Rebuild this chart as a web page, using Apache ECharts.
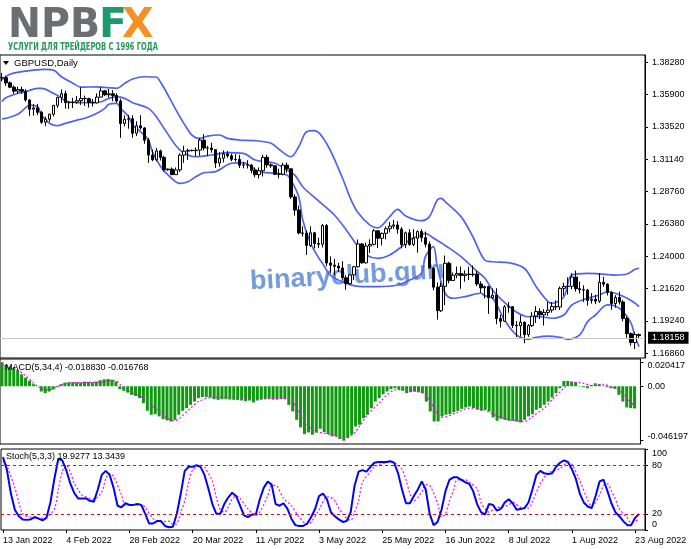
<!DOCTYPE html>
<html><head><meta charset="utf-8">
<script src="https://cdn.jsdelivr.net/npm/echarts@6/dist/echarts.min.js"></script>
<style>html,body{margin:0;padding:0;background:#fff}#c{width:691px;height:549px}</style>
</head><body><div id="c"></div>
<script>
const dates = ['13 Jan 2022','14 Jan 2022','17 Jan 2022','18 Jan 2022','19 Jan 2022','20 Jan 2022','21 Jan 2022','24 Jan 2022','25 Jan 2022','26 Jan 2022','27 Jan 2022','28 Jan 2022','31 Jan 2022',
'1 Feb 2022','2 Feb 2022','3 Feb 2022','4 Feb 2022','7 Feb 2022','8 Feb 2022','9 Feb 2022','10 Feb 2022','11 Feb 2022','14 Feb 2022','15 Feb 2022','16 Feb 2022','17 Feb 2022','18 Feb 2022','21 Feb 2022','22 Feb 2022','23 Feb 2022','24 Feb 2022','25 Feb 2022','28 Feb 2022',
'1 Mar 2022','2 Mar 2022','3 Mar 2022','4 Mar 2022','7 Mar 2022','8 Mar 2022','9 Mar 2022','10 Mar 2022','11 Mar 2022','13 Mar 2022','14 Mar 2022','15 Mar 2022','16 Mar 2022','17 Mar 2022','18 Mar 2022','20 Mar 2022','21 Mar 2022','22 Mar 2022','23 Mar 2022','24 Mar 2022','25 Mar 2022','28 Mar 2022','29 Mar 2022','30 Mar 2022','31 Mar 2022',
'1 Apr 2022','4 Apr 2022','5 Apr 2022','6 Apr 2022','7 Apr 2022','8 Apr 2022','11 Apr 2022','12 Apr 2022','13 Apr 2022','14 Apr 2022','15 Apr 2022','18 Apr 2022','19 Apr 2022','20 Apr 2022','21 Apr 2022','22 Apr 2022','25 Apr 2022','26 Apr 2022','27 Apr 2022','28 Apr 2022','29 Apr 2022',
'2 May 2022','3 May 2022','4 May 2022','5 May 2022','6 May 2022','9 May 2022','10 May 2022','11 May 2022','12 May 2022','13 May 2022','16 May 2022','17 May 2022','18 May 2022','19 May 2022','20 May 2022','23 May 2022','24 May 2022','25 May 2022','26 May 2022','27 May 2022','30 May 2022','31 May 2022',
'1 Jun 2022','2 Jun 2022','3 Jun 2022','6 Jun 2022','7 Jun 2022','8 Jun 2022','9 Jun 2022','10 Jun 2022','13 Jun 2022','14 Jun 2022','15 Jun 2022','16 Jun 2022','17 Jun 2022','20 Jun 2022','21 Jun 2022','22 Jun 2022','23 Jun 2022','24 Jun 2022','27 Jun 2022','28 Jun 2022','29 Jun 2022','30 Jun 2022',
'1 Jul 2022','4 Jul 2022','5 Jul 2022','6 Jul 2022','7 Jul 2022','8 Jul 2022','11 Jul 2022','12 Jul 2022','13 Jul 2022','14 Jul 2022','15 Jul 2022','18 Jul 2022','19 Jul 2022','20 Jul 2022','21 Jul 2022','22 Jul 2022','25 Jul 2022','26 Jul 2022','27 Jul 2022','28 Jul 2022','29 Jul 2022',
'1 Aug 2022','2 Aug 2022','3 Aug 2022','4 Aug 2022','5 Aug 2022','8 Aug 2022','9 Aug 2022','10 Aug 2022','11 Aug 2022','12 Aug 2022','15 Aug 2022','16 Aug 2022','17 Aug 2022','18 Aug 2022','19 Aug 2022','22 Aug 2022','23 Aug 2022','24 Aug 2022'];
// MT4 leaves one empty slot at the right edge of the chart
const rightGapSlots = [''];

// [open, close, low, high]
const candles = [
[1.3714,1.3715,1.3688,1.3749],[1.3715,1.3677,1.3655,1.3730],[1.3677,1.3645,1.3638,1.3686],[1.3645,1.3616,1.3597,1.3658],[1.3616,1.3628,1.3597,1.3648],
[1.3628,1.3615,1.3597,1.3650],[1.3615,1.3551,1.3538,1.3631],[1.3551,1.3483,1.3434,1.3554],[1.3483,1.3493,1.3436,1.3520],[1.3493,1.3460,1.3440,1.3522],
[1.3460,1.3387,1.3375,1.3470],[1.3387,1.3409,1.3358,1.3428],[1.3409,1.3446,1.3392,1.3450],[1.3446,1.3511,1.3429,1.3515],[1.3511,1.3570,1.3493,1.3574],
[1.3570,1.3598,1.3528,1.3629],[1.3598,1.3531,1.3488,1.3620],[1.3531,1.3532,1.3485,1.3544],[1.3532,1.3534,1.3492,1.3567],[1.3534,1.3546,1.3523,1.3581],
[1.3546,1.3562,1.3515,1.3644],[1.3562,1.3560,1.3508,1.3583],[1.3560,1.3533,1.3495,1.3568],[1.3533,1.3529,1.3502,1.3558],[1.3529,1.3572,1.3526,1.3599],
[1.3572,1.3618,1.3570,1.3644],[1.3618,1.3589,1.3581,1.3623],[1.3589,1.3596,1.3570,1.3633],[1.3596,1.3584,1.3541,1.3624],[1.3584,1.3543,1.3530,1.3600],
[1.3543,1.3378,1.3272,1.3560],[1.3378,1.3409,1.3357,1.3437],[1.3409,1.3413,1.3339,1.3441],[1.3413,1.3306,1.3273,1.3438],[1.3306,1.3361,1.3285,1.3394],
[1.3361,1.3345,1.3333,1.3439],[1.3345,1.3255,1.3229,1.3351],[1.3255,1.3145,1.3088,1.3271],[1.3145,1.3111,1.3100,1.3186],[1.3111,1.3176,1.3099,1.3198],
[1.3176,1.3128,1.3105,1.3185],[1.3128,1.3037,1.3024,1.3140],[1.3037,1.3042,1.3030,1.3047],[1.3042,1.3001,1.3000,1.3054],[1.3001,1.3036,1.2999,1.3054],
[1.3036,1.3145,1.3021,1.3158],[1.3145,1.3174,1.3088,1.3214],[1.3174,1.3180,1.3110,1.3193],[1.3180,1.3178,1.3172,1.3186],[1.3178,1.3182,1.3136,1.3201],
[1.3182,1.3255,1.3140,1.3271],[1.3255,1.3197,1.3180,1.3299],[1.3197,1.3197,1.3138,1.3213],[1.3197,1.3185,1.3163,1.3235],[1.3185,1.3087,1.3051,1.3186],
[1.3087,1.3122,1.3060,1.3166],[1.3122,1.3154,1.3091,1.3180],[1.3154,1.3140,1.3125,1.3175],[1.3140,1.3114,1.3099,1.3155],[1.3114,1.3113,1.3097,1.3153],
[1.3113,1.3071,1.3050,1.3147],[1.3071,1.3074,1.3048,1.3095],[1.3074,1.3072,1.3046,1.3107],[1.3072,1.3033,1.3011,1.3081],[1.3033,1.3001,1.2982,1.3055],
[1.3001,1.3030,1.2973,1.3054],[1.3030,1.3129,1.2988,1.3147],[1.3129,1.3073,1.3052,1.3148],[1.3073,1.3066,1.3051,1.3085],[1.3066,1.3004,1.2999,1.3071],
[1.3004,1.3004,1.2974,1.3045],[1.3004,1.3071,1.2996,1.3089],[1.3071,1.3044,1.3015,1.3090],[1.3044,1.2837,1.2823,1.3045],[1.2837,1.2740,1.2700,1.2857],
[1.2740,1.2572,1.2561,1.2773],[1.2572,1.2569,1.2546,1.2621],[1.2569,1.2480,1.2410,1.2589],[1.2480,1.2573,1.2469,1.2620],[1.2573,1.2494,1.2458,1.2580],
[1.2494,1.2489,1.2462,1.2537],[1.2489,1.2627,1.2465,1.2638],[1.2627,1.2351,1.2326,1.2638],[1.2351,1.2335,1.2275,1.2400],[1.2335,1.2327,1.2260,1.2381],
[1.2327,1.2314,1.2285,1.2352],[1.2314,1.2242,1.2228,1.2364],[1.2242,1.2200,1.2155,1.2261],[1.2200,1.2263,1.2192,1.2270],[1.2263,1.2323,1.2224,1.2330],
[1.2323,1.2491,1.2316,1.2524],[1.2491,1.2352,1.2345,1.2498],[1.2352,1.2476,1.2347,1.2500],[1.2476,1.2488,1.2425,1.2525],[1.2488,1.2588,1.2480,1.2600],
[1.2588,1.2533,1.2460,1.2590],[1.2533,1.2569,1.2480,1.2575],[1.2569,1.2603,1.2525,1.2620],[1.2603,1.2622,1.2576,1.2652],[1.2622,1.2631,1.2603,1.2668],
[1.2631,1.2600,1.2567,1.2659],[1.2600,1.2487,1.2459,1.2615],[1.2487,1.2573,1.2460,1.2582],[1.2573,1.2487,1.2478,1.2600],[1.2487,1.2533,1.2475,1.2599],
[1.2533,1.2582,1.2427,1.2590],[1.2582,1.2537,1.2506,1.2599],[1.2537,1.2489,1.2465,1.2583],[1.2489,1.2313,1.2313,1.2509],[1.2313,1.2173,1.2150,1.2318],
[1.2173,1.1999,1.1934,1.2207],[1.1999,1.2179,1.1990,1.2207],[1.2179,1.2349,1.2041,1.2406],[1.2349,1.2222,1.2201,1.2360],[1.2222,1.2261,1.2220,1.2280],
[1.2261,1.2273,1.2238,1.2324],[1.2273,1.2258,1.2161,1.2324],[1.2258,1.2269,1.2213,1.2297],[1.2269,1.2265,1.2225,1.2323],[1.2265,1.2269,1.2250,1.2332],
[1.2269,1.2196,1.2180,1.2293],[1.2196,1.2168,1.2131,1.2216],[1.2168,1.2177,1.2090,1.2183],[1.2177,1.2095,1.1976,1.2181],[1.2095,1.2114,1.2085,1.2163],
[1.2114,1.1942,1.1900,1.2165],[1.1942,1.1922,1.1876,1.1969],[1.1922,1.2028,1.1917,1.2041],[1.2028,1.2029,1.1985,1.2063],[1.2029,1.1892,1.1872,1.2034],
[1.1892,1.1888,1.1806,1.1923],[1.1888,1.1915,1.1808,1.1966],[1.1915,1.1823,1.1760,1.1920],[1.1823,1.1890,1.1807,1.1900],[1.1890,1.1960,1.1880,1.1988],
[1.1960,1.1994,1.1910,1.2033],[1.1994,1.1969,1.1938,1.2018],[1.1969,1.1987,1.1890,1.2011],[1.1987,1.2004,1.1962,1.2064],[1.2004,1.2031,1.1985,1.2063],
[1.2031,1.2027,1.2005,1.2075],[1.2027,1.2164,1.2005,1.2178],[1.2164,1.2178,1.2110,1.2205],[1.2178,1.2179,1.2118,1.2245],[1.2179,1.2247,1.2158,1.2276],
[1.2247,1.2162,1.2140,1.2294],[1.2162,1.2154,1.2126,1.2214],[1.2154,1.2151,1.2064,1.2187],[1.2151,1.2075,1.2037,1.2160],[1.2075,1.2084,1.2052,1.2129],
[1.2084,1.2070,1.2048,1.2117],[1.2070,1.2209,1.2057,1.2276],[1.2209,1.2195,1.2176,1.2249],[1.2195,1.2133,1.2112,1.2201],[1.2133,1.2052,1.2006,1.2143],
[1.2052,1.2097,1.2022,1.2114],[1.2097,1.2064,1.2045,1.2140],[1.2064,1.1942,1.1922,1.2079],[1.1942,1.1831,1.1800,1.1958],[1.1831,1.1765,1.1742,1.1840],
[1.1765,1.1824,1.1717,1.1841],[1.1824,1.18158,1.1800,1.1832]];

// Bollinger bands: [bar index, price]
const bandUpper = [[0,1.3698],[2,1.3740],[5,1.3759],[8,1.3771],[11,1.3776],[13,1.3771],[15,1.3722],[18,1.3673],[20,1.3645],[24,1.3648],[27,1.3641],[29,1.3637],[31,1.3673],[33,1.3705],[36,1.3722],[39,1.3720],[40,1.3685],[41,1.3637],[44,1.3476],[46,1.3377],[48,1.3293],[50,1.3268],[52,1.3285],[55,1.3293],[57,1.3268],[60,1.3256],[64,1.3251],[68,1.3232],[70,1.3188],[73,1.3133],[75,1.3207],[77,1.3317],[79,1.3325],[82,1.3232],[86,1.2980],[88,1.2830],[90,1.2720],[93,1.2630],[95,1.2610],[98,1.2692],[100,1.2746],[102,1.2697],[106,1.2662],[108,1.2692],[110,1.2815],[111,1.2827],[112,1.2802],[116,1.2692],[119,1.2544],[122,1.2373],[124,1.2360],[128,1.2353],[132,1.2312],[135,1.2176],[138,1.2066],[139,1.2054],[142,1.2103],[144,1.2262],[148,1.2275],[151,1.2270],[155,1.2262],[158,1.2270],[160,1.2304],[161,1.2312]];
const bandMiddle = [[0,1.3538],[1,1.3567],[4,1.3600],[6,1.3612],[9,1.3637],[10,1.3637],[13,1.3600],[15,1.3567],[16,1.3543],[19,1.3531],[22,1.3531],[25,1.3538],[27,1.3563],[29,1.3575],[31,1.3563],[33,1.3531],[37,1.3489],[39,1.3428],[41,1.3340],[45,1.3182],[49,1.3133],[53,1.3146],[57,1.3163],[61,1.3158],[64,1.3109],[69,1.3085],[72,1.3035],[74,1.2998],[76,1.2912],[80,1.2808],[84,1.2704],[87,1.2594],[90,1.2471],[92,1.2410],[95,1.2385],[98,1.2410],[101,1.2471],[103,1.2520],[106,1.2557],[107,1.2569],[109,1.2535],[112,1.2480],[116,1.2398],[120,1.2290],[122,1.2240],[124,1.2150],[127,1.2060],[130,1.1990],[133,1.1955],[136,1.1955],[139,1.1944],[142,1.1968],[144,1.2042],[148,1.2091],[151,1.2115],[153,1.2139],[155,1.2128],[158,1.2091],[160,1.2054],[161,1.2029]];
const bandLower = [[0,1.3411],[1,1.3416],[4,1.3445],[6,1.3494],[7,1.3514],[9,1.3501],[10,1.3440],[12,1.3379],[14,1.3361],[16,1.3379],[19,1.3403],[21,1.3416],[24,1.3453],[26,1.3489],[27,1.3519],[29,1.3526],[30,1.3489],[32,1.3428],[33,1.3366],[35,1.3317],[37,1.3256],[38,1.3170],[40,1.3065],[42,1.2998],[45,1.2937],[47,1.2949],[49,1.2986],[51,1.3015],[54,1.3023],[58,1.3085],[61,1.3089],[63,1.3060],[65,1.3023],[69,1.3011],[72,1.2998],[73,1.2962],[75,1.2839],[76,1.2667],[78,1.2496],[80,1.2390],[81,1.2348],[83,1.2262],[87,1.2201],[91,1.2177],[95,1.2177],[100,1.2189],[103,1.2225],[106,1.2275],[107,1.2397],[109,1.2471],[110,1.2324],[112,1.2128],[114,1.2091],[117,1.2103],[121,1.2128],[122,1.2110],[124,1.2091],[127,1.1931],[130,1.1821],[133,1.1789],[135,1.1804],[138,1.1813],[141,1.1804],[143,1.1789],[146,1.1821],[148,1.1919],[150,1.1968],[153,1.2042],[155,1.2034],[157,1.1992],[159,1.1907],[160,1.1808],[161,1.1735]];

const macdHist = [0.0204,0.0180,0.0166,0.0158,0.0138,0.0101,0.0073,0.0045,0.0017,0.0003,
-0.0045,-0.0059,-0.0045,-0.0028,-0.0008,0.0017,0.0031,0.0034,0.0034,0.0034,
0.0031,0.0039,0.0037,0.0034,0.0039,0.0051,0.0059,0.0062,0.0056,0.0039,
-0.0025,-0.0039,-0.0054,-0.0073,-0.0082,-0.0101,-0.0144,-0.0208,-0.0242,-0.0237,
-0.0256,-0.0279,-0.0290,-0.0299,-0.0285,-0.0242,-0.0208,-0.0186,-0.0158,-0.0130,
-0.0101,-0.0093,-0.0093,-0.0096,-0.0110,-0.0115,-0.0110,-0.0110,-0.0113,-0.0115,
-0.0118,-0.0121,-0.0127,-0.0121,-0.0138,-0.0121,-0.0110,-0.0107,-0.0107,-0.0113,
-0.0113,-0.0107,-0.0110,-0.0158,-0.0214,-0.0285,-0.0349,-0.0406,-0.0392,-0.0411,
-0.0394,-0.0361,-0.0389,-0.0406,-0.0425,-0.0425,-0.0448,-0.0462,-0.0439,-0.0411,
-0.0341,-0.0327,-0.0270,-0.0242,-0.0186,-0.0130,-0.0101,-0.0068,-0.0045,-0.0025,
-0.0017,-0.0028,-0.0039,-0.0059,-0.0051,-0.0045,-0.0051,-0.0059,-0.0130,-0.0214,
-0.0299,-0.0299,-0.0256,-0.0242,-0.0237,-0.0220,-0.0208,-0.0192,-0.0180,-0.0172,
-0.0186,-0.0200,-0.0208,-0.0200,-0.0214,-0.0265,-0.0293,-0.0276,-0.0285,-0.0293,
-0.0293,-0.0299,-0.0307,-0.0285,-0.0256,-0.0237,-0.0200,-0.0186,-0.0158,-0.0130,
-0.0096,-0.0059,-0.0017,0.0045,0.0045,0.0039,0.0034,-0.0003,-0.0008,-0.0017,
0.0011,0.0025,0.0017,0.0006,-0.0008,-0.0017,-0.0023,-0.0073,-0.0130,-0.0180,
-0.0186,-0.018830];
const macdSignal = [[0,0.0186],[3,0.0158],[6,0.0090],[8,0.0025],[10,-0.0017],[11,-0.0028],[12,-0.0031],[14,-0.0006],[16,0.0023],[20,0.0031],[25,0.0034],[27,0.0045],[29,0.0045],[30,0.0017],[32,-0.0031],[34,-0.0068],[36,-0.0101],[38,-0.0158],[40,-0.0214],[41,-0.0242],[42,-0.0270],[44,-0.0293],[45,-0.0276],[48,-0.0186],[50,-0.0130],[53,-0.0096],[55,-0.0093],[58,-0.0093],[61,-0.0101],[64,-0.0115],[67,-0.0107],[72,-0.0104],[74,-0.0130],[75,-0.0186],[77,-0.0285],[78,-0.0341],[80,-0.0383],[84,-0.0411],[86,-0.0434],[87,-0.0445],[89,-0.0417],[91,-0.0341],[93,-0.0242],[96,-0.0144],[98,-0.0073],[100,-0.0031],[102,-0.0028],[106,-0.0045],[107,-0.0051],[109,-0.0130],[111,-0.0242],[112,-0.0265],[116,-0.0220],[119,-0.0186],[122,-0.0192],[124,-0.0220],[128,-0.0276],[131,-0.0293],[133,-0.0299],[135,-0.0256],[138,-0.0186],[140,-0.0115],[143,-0.0017],[145,0.0034],[148,0.0025],[150,0.0006],[153,0.0017],[155,-0.0006],[157,-0.0031],[159,-0.0101],[161,-0.016768]];

const stochK = [90,74,45,25,17,13,12.5,13,16,14, 12,15,34,63,88,86,74,58,46,39, 39,39,36,35,50,68,73,68,52,30,
28,33,31,31,32,31,20,8,8,11, 11,5,3.4,4,20,45,73,78,78,80, 78,68,51,32,20,20,32,40,46,42,
30,18,16,19,19,38,52,60,56,32, 30,33,26,14,6,5,5,8,16,26, 42,45,38,22,17,13,10,11,22,55,
72,74,72,78,83,84,84,84,85,83, 70,50,33,33,42,50,60,50,20,6, 10,25,48,62,65,65,62,59,57,48,
32,22,19,32,31,24,26,34,38,33, 25,26,27,34,50,68,73,70,69,70, 78,83,86,84,75,63,45,34,29,27,
42,60,62,48,33,22,17,11,6,6, 15,19.9277];
const stochD = [[0,85],[1,79],[3,52],[4,34],[5,20],[7,15.8],[10,14.6],[11,15.8],[13,26],[14,50],[15,72],[16,80],[17,72],[18,58],[19,50],[20,43],[22,39],[23,38],[25,47],[26,63],[27,70],[28,66],[30,43],[31,30],[32,31],[35,31],[36,28],[38,14],[40,10],[42,11],[43,7],[44,8],[45,22],[46,36],[47,59],[48,74],[50,80],[51,78],[53,60],[54,40],[55,25],[56,22],[57,28],[58,38],[59,42],[60,39],[62,26],[64,18],[65,22],[67,42],[68,55],[69,55],[71,39],[73,30],[75,16],[77,7],[78,10],[80,25],[81,35],[82,41],[83,40],[84,36],[85,27],[86,20],[87,14],[88,12],[89,22],[90,36],[91,59],[93,72],[94,78],[96,82],[98,84],[99,83],[100,80],[101,75],[102,62],[103,45],[104,36],[106,47],[107,56],[108,55],[110,33],[111,16],[112,20],[113,36],[114,48],[115,62],[117,62],[118,59],[120,51],[121,34],[122,26],[123,22],[125,28],[126,28],[128,31],[129,34],[131,28],[133,27],[134,35],[136,57],[138,71],[139,72],[141,76],[143,83],[144,81],[146,61],[148,37],[149,29],[151,43],[152,55],[153,57],[154,48],[155,38],[156,26],[158,15],[159,9],[160,11],[161,13.3439]];

const priceTicks = [1.38280,1.35900,1.33520,1.31140,1.28760,1.26380,1.24000,1.21620,1.19240,1.16860];
const macdTicks = [0.020417, 0, -0.046197];
const stochTicks = [100, 80, 20, 0];
const stochLevels = [80, 20];
const lastPrice = 1.18158;
const macdTitle = 'MACD(5,34,4) -0.018830 -0.016768';
const stochTitle = 'Stoch(5,3,3) 19.9277 13.3439';
const symbolTitle = 'GBPUSD,Daily';
const tagline = 'УСЛУГИ ДЛЯ ТРЕЙДЕРОВ С 1996 ГОДА';

const FONT = 'Liberation Sans';
const labelEvery = (i) => i % 16 === 0;
const categories = dates.concat(rightGapSlots);

const mctx = document.createElement('canvas').getContext('2d');
function measure(txt, font){ mctx.font = font; return mctx.measureText(txt).width; }
const tagFont = 'bold 10px "DejaVu Sans"';
const tagScale = 150 / measure(tagline, tagFont);
const npbFont = 'bold 41px "DejaVu Sans"';
const npbScale = 92 / measure('NPB', npbFont);

const chart = echarts.init(document.getElementById('c'), null, {renderer:'canvas', width:691, height:549});

const grids = [
  {left:0, right:46, top:55, height:303},
  {left:0, right:46, top:359, height:85},
  {left:0, right:46, top:449, height:81}
].map(g => Object.assign({show:true, borderColor:'#000', borderWidth:1, backgroundColor:'transparent'}, g));

function xAx(idx, showLabels){
  return {
    type:'category', gridIndex:idx, data:categories, boundaryGap:true,
    axisLine:{show:false},
    axisTick: showLabels ? {show:true, interval:(i)=>labelEvery(i), alignWithLabel:true, length:3, lineStyle:{color:'#000'}} : {show:false},
    axisLabel: showLabels ? {show:true, interval:(i)=>labelEvery(i), align:'left', margin:6, fontFamily:FONT, fontSize:9, color:'#000', formatter:(v)=>v} : {show:false},
    splitLine:{show:false}
  };
}

function shiftRich(pad){ return {fontFamily:FONT, fontSize:9, color:'#000', padding:pad}; }

const option = {
  animation:false,
  backgroundColor:'#fff',
  grid:grids,
  xAxis:[xAx(0,false), xAx(1,false), xAx(2,true)],
  yAxis:[
    {type:'value', gridIndex:0, position:'right', min:1.16513, max:1.3882, scale:true,
     axisLine:{show:true, lineStyle:{color:'#000'}},
     axisTick:{show:true, length:3, customValues:priceTicks, lineStyle:{color:'#000'}},
     axisLabel:{show:true, customValues:priceTicks, margin:7, fontFamily:FONT, fontSize:9, color:'#000', formatter:(v)=>v.toFixed(5)},
     splitLine:{show:false}},
    {type:'value', gridIndex:1, position:'right', min:-0.0490, max:0.0231,
     axisLine:{show:true, lineStyle:{color:'#000'}},
     axisTick:{show:true, length:3, customValues:macdTicks, lineStyle:{color:'#000'}},
     axisLabel:{show:true, customValues:macdTicks, margin:7, fontFamily:FONT, fontSize:9, color:'#000',
       formatter:(v)=> v===0 ? '0.00' : (v>0 ? '{t|'+v.toFixed(6)+'}' : '{b|'+v.toFixed(6)+'}'),
       rich:{t:shiftRich([7,0,0,0]), b:shiftRich([0,0,9,0])}},
     splitLine:{show:false}},
    {type:'value', gridIndex:2, position:'right', min:0, max:100,
     axisLine:{show:true, lineStyle:{color:'#000'}},
     axisTick:{show:true, length:3, customValues:stochTicks, lineStyle:{color:'#000'}},
     axisLabel:{show:true, customValues:stochTicks, margin:7, fontFamily:FONT, fontSize:9, color:'#000',
       formatter:(v)=> v===100 ? '{t|100}' : (v===0 ? '{b|0}' : String(v)),
       rich:{t:shiftRich([10,0,0,0]), b:shiftRich([0,0,10,0])}},
     splitLine:{show:false}}
  ],
  series:[
    {type:'line', name:'upper', xAxisIndex:0, yAxisIndex:0, data:bandUpper, smooth:0.35, symbol:'none', lineStyle:{color:'#4f63f0', width:1.7}, z:2},
    {type:'line', name:'middle', xAxisIndex:0, yAxisIndex:0, data:bandMiddle, smooth:0.35, symbol:'none', lineStyle:{color:'#4f63f0', width:1.7}, z:2},
    {type:'line', name:'lower', xAxisIndex:0, yAxisIndex:0, data:bandLower, smooth:0.35, symbol:'none', lineStyle:{color:'#4f63f0', width:1.7}, z:2},
    {type:'candlestick', name:'GBPUSD', xAxisIndex:0, yAxisIndex:0, data:candles, barWidth:3, z:3,
     itemStyle:{color:'#fff', color0:'#000', borderColor:'#000', borderColor0:'#000', borderWidth:1},
     markLine:{silent:true, symbol:['none','none'], animation:false,
       lineStyle:{color:'#c8c8c8', type:'solid', width:1},
       label:{show:true, position:'end', distance:3, formatter:()=>lastPrice.toFixed(5), backgroundColor:'#000', color:'#fff', padding:[2,4,1,4], fontFamily:FONT, fontSize:9},
       data:[{yAxis:lastPrice}]}},
    {type:'bar', name:'MACD', xAxisIndex:1, yAxisIndex:1, data:macdHist, barWidth:3, itemStyle:{color:'#0d9a0d'}, z:2},
    {type:'line', name:'Signal', xAxisIndex:1, yAxisIndex:1, data:macdSignal, smooth:0.3, symbol:'none', lineStyle:{color:'#ff00ff', width:1.2, type:[2,2]}, z:3},
    {type:'line', name:'%K', xAxisIndex:2, yAxisIndex:2, data:stochK, symbol:'none', lineStyle:{color:'#0000ff', width:2}, z:4,
     markLine:{silent:true, symbol:['none','none'], animation:false, label:{show:false},
       lineStyle:{color:'#ff0000', type:[3,3], width:1.2}, data:stochLevels.map(v=>({yAxis:v}))}},
    {type:'line', name:'%D', xAxisIndex:2, yAxisIndex:2, data:stochD, smooth:0.3, symbol:'none', lineStyle:{color:'#ff00ff', width:1.2, type:[2,2]}, z:3}
  ],
  graphic:[
    {type:'text', x:8, y:6, scaleX:npbScale, z:10, style:{text:'NPB', font:npbFont, fill:'#6d6e71', textVerticalAlign:'top', verticalAlign:'top'}},
    {type:'text', x:99, y:6, z:10, style:{text:'F', font:npbFont, fill:'#1d9a6c', textVerticalAlign:'top', verticalAlign:'top'}},
    {type:'text', x:122, y:6, z:10, style:{text:'X', font:npbFont, fill:'#f39224', textVerticalAlign:'top', verticalAlign:'top'}},
    {type:'text', x:8, y:47, scaleX:tagScale, z:10, style:{text:tagline, font:tagFont, fill:'#239a55', textVerticalAlign:'middle', verticalAlign:'middle'}},
    {type:'polygon', z:10, shape:{points:[[3,61],[9,61],[6,65]]}, style:{fill:'#000'}},
    {type:'text', x:14, y:63, z:10, style:{text:symbolTitle, font:'9.5px "'+FONT+'"', fill:'#000', textVerticalAlign:'middle', verticalAlign:'middle'}},
    {type:'text', x:5, y:368, z:10, style:{text:macdTitle, font:'9px "'+FONT+'"', fill:'#000', textVerticalAlign:'middle', verticalAlign:'middle'}},
    {type:'text', x:6, y:457, z:10, style:{text:stochTitle, font:'9px "'+FONT+'"', fill:'#000', textVerticalAlign:'middle', verticalAlign:'middle'}},
    {type:'text', x:352, y:276, rotation:0.058, z:1, style:{text:'binaryclub.guru', font:'bold 27px "Liberation Sans"', fill:'#6f96d9', opacity:0.95, textAlign:'center', align:'center', textVerticalAlign:'middle', verticalAlign:'middle'}}
  ]
};
chart.setOption(option);
</script></body></html>
